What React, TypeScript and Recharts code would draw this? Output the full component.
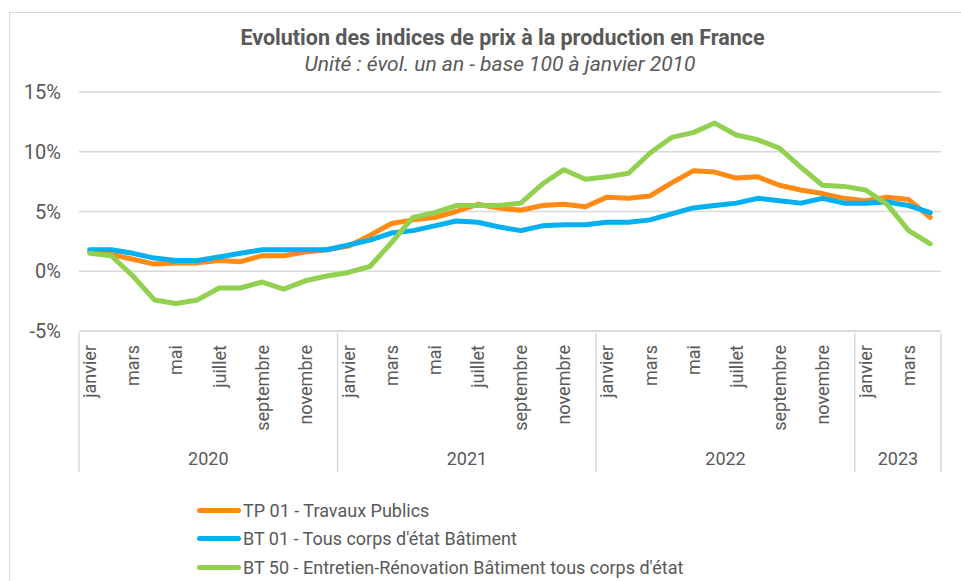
import { LineChart, Line, XAxis, YAxis, CartesianGrid } from "recharts";

const months = [
  "janvier",
  "février",
  "mars",
  "avril",
  "mai",
  "juin",
  "juillet",
  "août",
  "septembre",
  "octobre",
  "novembre",
  "décembre",
];
const years = [2020, 2021, 2022, 2023];

// évolution sur un an, en %
const tp01 = [
  1.6, 1.4, 1.0, 0.6, 0.7, 0.7, 0.9, 0.8, 1.3, 1.3, 1.6, 1.8,
  2.1, 3.0, 4.0, 4.3, 4.5, 5.0, 5.6, 5.3, 5.1, 5.5, 5.6, 5.4,
  6.2, 6.1, 6.3, 7.4, 8.4, 8.3, 7.8, 7.9, 7.2, 6.8, 6.5, 6.1,
  5.9, 6.2, 6.0, 4.5,
];
const bt01 = [
  1.8, 1.8, 1.5, 1.1, 0.9, 0.9, 1.2, 1.5, 1.8, 1.8, 1.8, 1.8,
  2.2, 2.6, 3.2, 3.4, 3.8, 4.2, 4.1, 3.7, 3.4, 3.8, 3.9, 3.9,
  4.1, 4.1, 4.3, 4.8, 5.3, 5.5, 5.7, 6.1, 5.9, 5.7, 6.1, 5.7,
  5.7, 5.8, 5.5, 4.9,
];
const bt50 = [
  1.5, 1.3, -0.4, -2.4, -2.7, -2.4, -1.4, -1.4, -0.9, -1.5, -0.8, -0.4,
  -0.1, 0.4, 2.4, 4.5, 4.9, 5.5, 5.5, 5.5, 5.7, 7.3, 8.5, 7.7,
  7.9, 8.2, 9.9, 11.2, 11.6, 12.4, 11.4, 11.0, 10.3, 8.7, 7.2, 7.1,
  6.8, 5.6, 3.4, 2.3,
];
const yTicks = [-5, 0, 5, 10, 15];

const series = [
  { key: "tp01", name: "TP 01 - Travaux Publics", color: "#FF8A14" },
  { key: "bt01", name: "BT 01 - Tous corps d'état Bâtiment", color: "#00B0F0" },
  {
    key: "bt50",
    name: "BT 50 - Entretien-Rénovation Bâtiment tous corps d'état",
    color: "#92D050",
  },
];

const data = tp01.map((_, i) => ({
  id: `${years[Math.floor(i / 12)]}-${i % 12}`,
  month: months[i % 12],
  year: years[Math.floor(i / 12)],
  tp01: tp01[i],
  bt01: bt01[i],
  bt50: bt50[i],
}));

const W = 961;
const H = 581;
const MARGIN = { top: 92, right: 20, bottom: 111, left: 0 };
const Y_AXIS_W = 79;
const X_AXIS_H = 139;
const PLOT_W = W - MARGIN.left - MARGIN.right - Y_AXIS_W;
const BAND = PLOT_W / data.length;
const GRID = "#d9d9d9";
const TEXT = "#595959";
const FONT = "Roboto, sans-serif";

function MonthTick(props: any) {
  const { x, y, index } = props;
  const d = data[index];
  if (!d) return null;
  const m = index % 12;
  const inYear = data.filter((r) => r.year === d.year).length;
  const bottom = y + X_AXIS_H;
  return (
    <g>
      {m % 2 === 0 && (
        <text
          x={x}
          y={y + 12}
          transform={`rotate(-90, ${x}, ${y + 12})`}
          textAnchor="end"
          dy="0.36em"
          fill={TEXT}
          fontSize={18}
          fontFamily={FONT}
        >
          {d.month}
        </text>
      )}
      {m === 0 && (
        <>
          <line
            x1={x - BAND / 2}
            x2={x - BAND / 2}
            y1={y}
            y2={bottom}
            stroke={GRID}
            strokeWidth={1.5}
          />
          <text
            x={x - BAND / 2 + (inYear * BAND) / 2}
            y={y + 132}
            textAnchor="middle"
            fill={TEXT}
            fontSize={18}
            fontFamily={FONT}
          >
            {d.year}
          </text>
        </>
      )}
      {index === data.length - 1 && (
        <line
          x1={x + BAND / 2}
          x2={x + BAND / 2}
          y1={y}
          y2={bottom}
          stroke={GRID}
          strokeWidth={1.5}
        />
      )}
    </g>
  );
}

export default function App() {
  return (
    <div
      style={{
        position: "absolute",
        left: 0,
        top: 0,
        width: W,
        height: H,
        overflow: "hidden",
        background: "#fff",
        fontFamily: FONT,
      }}
    >
      <div
        style={{
          position: "absolute",
          left: 9,
          top: 12,
          width: 1000,
          height: 700,
          border: `1px solid ${GRID}`,
        }}
      />
      <div
        style={{
          position: "absolute",
          left: 0,
          top: 24,
          width: 1005,
          textAlign: "center",
          color: TEXT,
          fontWeight: 700,
          fontSize: 21.5,
          lineHeight: "28px",
        }}
      >
        Evolution des indices de prix à la production en France
      </div>
      <div
        style={{
          position: "absolute",
          left: 0,
          top: 50,
          width: 1000,
          textAlign: "center",
          color: TEXT,
          fontStyle: "italic",
          fontSize: 21,
          lineHeight: "28px",
        }}
      >
        Unité : évol. un an - base 100 à janvier 2010
      </div>
      <div style={{ position: "absolute", left: 0, top: 0 }}>
        <LineChart width={W} height={H} data={data} margin={MARGIN}>
          <CartesianGrid vertical={false} stroke={GRID} strokeWidth={1.5} />
          <XAxis
            dataKey="id"
            interval={0}
            height={X_AXIS_H}
            padding={{ left: BAND / 2, right: BAND / 2 }}
            tickLine={false}
            tickSize={0}
            axisLine={{ stroke: GRID, strokeWidth: 1.5 }}
            tick={<MonthTick />}
          />
          <YAxis
            width={Y_AXIS_W}
            domain={[-5, 15]}
            ticks={yTicks}
            tickFormatter={(v: number) => `${v}%`}
            axisLine={false}
            tickLine={false}
            tickSize={0}
            tickMargin={18}
            tick={{ fill: TEXT, fontSize: 20, fontFamily: FONT }}
          />
          {series.map((s) => (
            <Line
              key={s.key}
              dataKey={s.key}
              name={s.name}
              type="linear"
              stroke={s.color}
              strokeWidth={5}
              strokeLinejoin="round"
              strokeLinecap="round"
              dot={false}
              activeDot={false}
              isAnimationActive={false}
            />
          ))}
        </LineChart>
      </div>
      <div style={{ position: "absolute", left: 197, top: 496 }}>
        {series.map((s) => (
          <div
            key={s.key}
            style={{
              display: "flex",
              alignItems: "center",
              height: 28.5,
              color: TEXT,
              fontSize: 18,
            }}
          >
            <span
              style={{
                display: "inline-block",
                width: 44,
                height: 5,
                borderRadius: 3,
                background: s.color,
                marginRight: 2,
              }}
            />
            {s.name}
          </div>
        ))}
      </div>
    </div>
  );
}
